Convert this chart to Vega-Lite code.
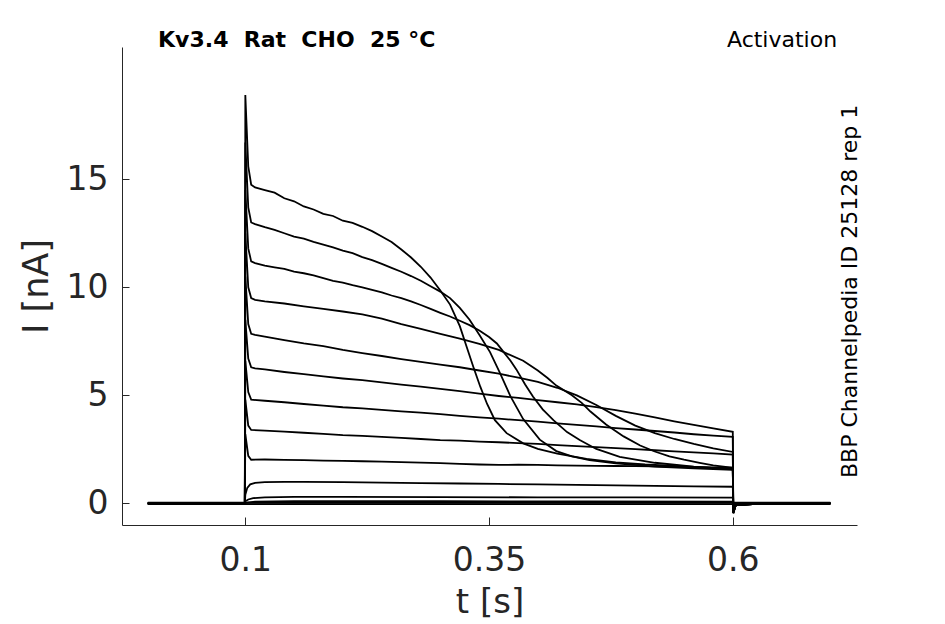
{
  "$schema": "https://vega.github.io/schema/vega-lite/v6.json",
  "width": 735,
  "height": 478,
  "autosize": "none",
  "padding": {"left": 122, "top": 47, "right": 88, "bottom": 99},
  "config": {
    "background": "white",
    "view": {"stroke": null},
    "font": "DejaVu Sans"
  },
  "layer": [
    {
      "data": {
        "values": [
          {"s": 1, "t": 0, "i": 0}, {"s": 1, "t": 0.05, "i": 0.02}, {"s": 1, "t": 0.0995, "i": 0},
          {"s": 1, "t": 0.1, "i": 18.9}, {"s": 1, "t": 0.103, "i": 15.6}, {"s": 1, "t": 0.106, "i": 14.75},
          {"s": 1, "t": 0.11, "i": 14.62}, {"s": 1, "t": 0.12, "i": 14.5}, {"s": 1, "t": 0.13, "i": 14.38},
          {"s": 1, "t": 0.14, "i": 14.12}, {"s": 1, "t": 0.15, "i": 13.98}, {"s": 1, "t": 0.16, "i": 13.74},
          {"s": 1, "t": 0.17, "i": 13.6}, {"s": 1, "t": 0.18, "i": 13.4}, {"s": 1, "t": 0.19, "i": 13.3},
          {"s": 1, "t": 0.2, "i": 13.08}, {"s": 1, "t": 0.21, "i": 12.98}, {"s": 1, "t": 0.22, "i": 12.8},
          {"s": 1, "t": 0.23, "i": 12.6}, {"s": 1, "t": 0.24, "i": 12.35}, {"s": 1, "t": 0.25, "i": 12.1},
          {"s": 1, "t": 0.26, "i": 11.75}, {"s": 1, "t": 0.27, "i": 11.38}, {"s": 1, "t": 0.28, "i": 10.95},
          {"s": 1, "t": 0.29, "i": 10.45}, {"s": 1, "t": 0.3, "i": 9.85}, {"s": 1, "t": 0.31, "i": 9.2},
          {"s": 1, "t": 0.32, "i": 8.2}, {"s": 1, "t": 0.327, "i": 7.25}, {"s": 1, "t": 0.334, "i": 6.3},
          {"s": 1, "t": 0.341, "i": 5.4}, {"s": 1, "t": 0.348, "i": 4.6}, {"s": 1, "t": 0.356, "i": 3.85},
          {"s": 1, "t": 0.368, "i": 3.25}, {"s": 1, "t": 0.385, "i": 2.78}, {"s": 1, "t": 0.4, "i": 2.52},
          {"s": 1, "t": 0.42, "i": 2.3}, {"s": 1, "t": 0.45, "i": 2.06}, {"s": 1, "t": 0.48, "i": 1.9},
          {"s": 1, "t": 0.51, "i": 1.8}, {"s": 1, "t": 0.54, "i": 1.74}, {"s": 1, "t": 0.57, "i": 1.67},
          {"s": 1, "t": 0.6, "i": 1.6}, {"s": 1, "t": 0.6005, "i": -0.45}, {"s": 1, "t": 0.603, "i": -0.08},
          {"s": 1, "t": 0.62, "i": -0.03}, {"s": 1, "t": 0.7, "i": 0},

          {"s": 2, "t": 0, "i": 0}, {"s": 2, "t": 0.05, "i": -0.02}, {"s": 2, "t": 0.0995, "i": 0},
          {"s": 2, "t": 0.1, "i": 16.7}, {"s": 2, "t": 0.103, "i": 13.7}, {"s": 2, "t": 0.106, "i": 13.0},
          {"s": 2, "t": 0.11, "i": 12.92}, {"s": 2, "t": 0.12, "i": 12.78}, {"s": 2, "t": 0.13, "i": 12.66},
          {"s": 2, "t": 0.14, "i": 12.5}, {"s": 2, "t": 0.15, "i": 12.35}, {"s": 2, "t": 0.16, "i": 12.25},
          {"s": 2, "t": 0.17, "i": 12.1}, {"s": 2, "t": 0.18, "i": 11.98}, {"s": 2, "t": 0.19, "i": 11.85},
          {"s": 2, "t": 0.2, "i": 11.7}, {"s": 2, "t": 0.21, "i": 11.58}, {"s": 2, "t": 0.22, "i": 11.4},
          {"s": 2, "t": 0.23, "i": 11.26}, {"s": 2, "t": 0.24, "i": 11.08}, {"s": 2, "t": 0.25, "i": 10.9},
          {"s": 2, "t": 0.26, "i": 10.72}, {"s": 2, "t": 0.27, "i": 10.52}, {"s": 2, "t": 0.28, "i": 10.3},
          {"s": 2, "t": 0.29, "i": 10.05}, {"s": 2, "t": 0.3, "i": 9.8}, {"s": 2, "t": 0.31, "i": 9.5},
          {"s": 2, "t": 0.32, "i": 9.05}, {"s": 2, "t": 0.33, "i": 8.5}, {"s": 2, "t": 0.34, "i": 7.8},
          {"s": 2, "t": 0.351, "i": 7.0}, {"s": 2, "t": 0.361, "i": 6.05}, {"s": 2, "t": 0.372, "i": 4.95},
          {"s": 2, "t": 0.385, "i": 3.9}, {"s": 2, "t": 0.402, "i": 2.95}, {"s": 2, "t": 0.419, "i": 2.42},
          {"s": 2, "t": 0.435, "i": 2.18}, {"s": 2, "t": 0.453, "i": 2.0}, {"s": 2, "t": 0.48, "i": 1.85},
          {"s": 2, "t": 0.52, "i": 1.7}, {"s": 2, "t": 0.56, "i": 1.62}, {"s": 2, "t": 0.6, "i": 1.55},
          {"s": 2, "t": 0.6005, "i": -0.45}, {"s": 2, "t": 0.603, "i": -0.08}, {"s": 2, "t": 0.62, "i": -0.03},
          {"s": 2, "t": 0.7, "i": 0},

          {"s": 3, "t": 0, "i": 0}, {"s": 3, "t": 0.05, "i": 0.01}, {"s": 3, "t": 0.0995, "i": 0},
          {"s": 3, "t": 0.1, "i": 14.5}, {"s": 3, "t": 0.103, "i": 11.8}, {"s": 3, "t": 0.106, "i": 11.2},
          {"s": 3, "t": 0.11, "i": 11.12}, {"s": 3, "t": 0.12, "i": 11.0}, {"s": 3, "t": 0.13, "i": 10.92},
          {"s": 3, "t": 0.14, "i": 10.85}, {"s": 3, "t": 0.15, "i": 10.72}, {"s": 3, "t": 0.16, "i": 10.65},
          {"s": 3, "t": 0.17, "i": 10.55}, {"s": 3, "t": 0.18, "i": 10.42}, {"s": 3, "t": 0.19, "i": 10.3},
          {"s": 3, "t": 0.2, "i": 10.22}, {"s": 3, "t": 0.21, "i": 10.1}, {"s": 3, "t": 0.22, "i": 10.0},
          {"s": 3, "t": 0.23, "i": 9.88}, {"s": 3, "t": 0.24, "i": 9.76}, {"s": 3, "t": 0.25, "i": 9.62},
          {"s": 3, "t": 0.26, "i": 9.5}, {"s": 3, "t": 0.27, "i": 9.35}, {"s": 3, "t": 0.28, "i": 9.18},
          {"s": 3, "t": 0.29, "i": 9.0}, {"s": 3, "t": 0.3, "i": 8.82}, {"s": 3, "t": 0.31, "i": 8.65},
          {"s": 3, "t": 0.32, "i": 8.45}, {"s": 3, "t": 0.33, "i": 8.25}, {"s": 3, "t": 0.34, "i": 8.0},
          {"s": 3, "t": 0.35, "i": 7.7}, {"s": 3, "t": 0.358, "i": 7.4}, {"s": 3, "t": 0.365, "i": 7.0},
          {"s": 3, "t": 0.372, "i": 6.6}, {"s": 3, "t": 0.378, "i": 6.2}, {"s": 3, "t": 0.387, "i": 5.5},
          {"s": 3, "t": 0.395, "i": 4.95}, {"s": 3, "t": 0.405, "i": 4.35}, {"s": 3, "t": 0.416, "i": 3.85},
          {"s": 3, "t": 0.43, "i": 3.3}, {"s": 3, "t": 0.443, "i": 2.93}, {"s": 3, "t": 0.46, "i": 2.52},
          {"s": 3, "t": 0.484, "i": 2.15}, {"s": 3, "t": 0.52, "i": 1.88}, {"s": 3, "t": 0.56, "i": 1.7},
          {"s": 3, "t": 0.6, "i": 1.58}, {"s": 3, "t": 0.6005, "i": -0.45}, {"s": 3, "t": 0.603, "i": -0.08},
          {"s": 3, "t": 0.62, "i": -0.03}, {"s": 3, "t": 0.7, "i": 0},

          {"s": 4, "t": 0, "i": 0}, {"s": 4, "t": 0.05, "i": -0.01}, {"s": 4, "t": 0.0995, "i": 0},
          {"s": 4, "t": 0.1, "i": 12.5}, {"s": 4, "t": 0.103, "i": 10.0}, {"s": 4, "t": 0.106, "i": 9.5},
          {"s": 4, "t": 0.11, "i": 9.42}, {"s": 4, "t": 0.12, "i": 9.35}, {"s": 4, "t": 0.14, "i": 9.25},
          {"s": 4, "t": 0.16, "i": 9.12}, {"s": 4, "t": 0.18, "i": 9.0}, {"s": 4, "t": 0.2, "i": 8.88},
          {"s": 4, "t": 0.22, "i": 8.75}, {"s": 4, "t": 0.24, "i": 8.55}, {"s": 4, "t": 0.26, "i": 8.3},
          {"s": 4, "t": 0.28, "i": 8.08}, {"s": 4, "t": 0.3, "i": 7.85}, {"s": 4, "t": 0.32, "i": 7.62},
          {"s": 4, "t": 0.34, "i": 7.38}, {"s": 4, "t": 0.36, "i": 7.1}, {"s": 4, "t": 0.385, "i": 6.6},
          {"s": 4, "t": 0.4, "i": 6.15}, {"s": 4, "t": 0.41, "i": 5.8}, {"s": 4, "t": 0.419, "i": 5.45},
          {"s": 4, "t": 0.435, "i": 5.0}, {"s": 4, "t": 0.445, "i": 4.65}, {"s": 4, "t": 0.454, "i": 4.25},
          {"s": 4, "t": 0.47, "i": 3.65}, {"s": 4, "t": 0.488, "i": 3.1}, {"s": 4, "t": 0.505, "i": 2.68},
          {"s": 4, "t": 0.52, "i": 2.4}, {"s": 4, "t": 0.535, "i": 2.18}, {"s": 4, "t": 0.55, "i": 2.02},
          {"s": 4, "t": 0.566, "i": 1.88}, {"s": 4, "t": 0.58, "i": 1.76}, {"s": 4, "t": 0.6, "i": 1.65},
          {"s": 4, "t": 0.6005, "i": -0.42}, {"s": 4, "t": 0.603, "i": -0.08}, {"s": 4, "t": 0.62, "i": -0.03},
          {"s": 4, "t": 0.7, "i": 0},

          {"s": 5, "t": 0, "i": 0}, {"s": 5, "t": 0.05, "i": 0.01}, {"s": 5, "t": 0.0995, "i": 0},
          {"s": 5, "t": 0.1, "i": 10.5}, {"s": 5, "t": 0.103, "i": 8.3}, {"s": 5, "t": 0.106, "i": 7.85},
          {"s": 5, "t": 0.11, "i": 7.8}, {"s": 5, "t": 0.12, "i": 7.72}, {"s": 5, "t": 0.14, "i": 7.55},
          {"s": 5, "t": 0.16, "i": 7.4}, {"s": 5, "t": 0.18, "i": 7.28}, {"s": 5, "t": 0.2, "i": 7.1},
          {"s": 5, "t": 0.22, "i": 6.95}, {"s": 5, "t": 0.24, "i": 6.82}, {"s": 5, "t": 0.26, "i": 6.68},
          {"s": 5, "t": 0.28, "i": 6.55}, {"s": 5, "t": 0.3, "i": 6.42}, {"s": 5, "t": 0.32, "i": 6.3},
          {"s": 5, "t": 0.34, "i": 6.15}, {"s": 5, "t": 0.36, "i": 6.0}, {"s": 5, "t": 0.38, "i": 5.82},
          {"s": 5, "t": 0.4, "i": 5.62}, {"s": 5, "t": 0.42, "i": 5.35}, {"s": 5, "t": 0.44, "i": 5.0},
          {"s": 5, "t": 0.46, "i": 4.55}, {"s": 5, "t": 0.48, "i": 4.05}, {"s": 5, "t": 0.5, "i": 3.6},
          {"s": 5, "t": 0.52, "i": 3.25}, {"s": 5, "t": 0.54, "i": 2.98}, {"s": 5, "t": 0.56, "i": 2.75},
          {"s": 5, "t": 0.58, "i": 2.55}, {"s": 5, "t": 0.6, "i": 2.38}, {"s": 5, "t": 0.6005, "i": -0.42},
          {"s": 5, "t": 0.603, "i": -0.08}, {"s": 5, "t": 0.62, "i": -0.03}, {"s": 5, "t": 0.7, "i": 0},

          {"s": 6, "t": 0, "i": 0}, {"s": 6, "t": 0.05, "i": 0}, {"s": 6, "t": 0.0995, "i": 0},
          {"s": 6, "t": 0.1, "i": 8.5}, {"s": 6, "t": 0.103, "i": 6.7}, {"s": 6, "t": 0.106, "i": 6.3},
          {"s": 6, "t": 0.11, "i": 6.25}, {"s": 6, "t": 0.12, "i": 6.2}, {"s": 6, "t": 0.14, "i": 6.08},
          {"s": 6, "t": 0.16, "i": 5.98}, {"s": 6, "t": 0.18, "i": 5.88}, {"s": 6, "t": 0.2, "i": 5.78},
          {"s": 6, "t": 0.22, "i": 5.7}, {"s": 6, "t": 0.24, "i": 5.6}, {"s": 6, "t": 0.26, "i": 5.5},
          {"s": 6, "t": 0.28, "i": 5.4}, {"s": 6, "t": 0.3, "i": 5.3}, {"s": 6, "t": 0.32, "i": 5.2},
          {"s": 6, "t": 0.34, "i": 5.08}, {"s": 6, "t": 0.36, "i": 4.97}, {"s": 6, "t": 0.38, "i": 4.88},
          {"s": 6, "t": 0.4, "i": 4.78}, {"s": 6, "t": 0.42, "i": 4.68}, {"s": 6, "t": 0.44, "i": 4.58},
          {"s": 6, "t": 0.46, "i": 4.45}, {"s": 6, "t": 0.48, "i": 4.32}, {"s": 6, "t": 0.5, "i": 4.15},
          {"s": 6, "t": 0.52, "i": 3.98}, {"s": 6, "t": 0.54, "i": 3.8}, {"s": 6, "t": 0.56, "i": 3.63},
          {"s": 6, "t": 0.58, "i": 3.47}, {"s": 6, "t": 0.6, "i": 3.31}, {"s": 6, "t": 0.6005, "i": -0.4},
          {"s": 6, "t": 0.603, "i": -0.08}, {"s": 6, "t": 0.62, "i": -0.03}, {"s": 6, "t": 0.7, "i": 0},

          {"s": 7, "t": 0, "i": 0}, {"s": 7, "t": 0.05, "i": -0.01}, {"s": 7, "t": 0.0995, "i": 0},
          {"s": 7, "t": 0.1, "i": 6.6}, {"s": 7, "t": 0.103, "i": 5.15}, {"s": 7, "t": 0.106, "i": 4.8},
          {"s": 7, "t": 0.12, "i": 4.75}, {"s": 7, "t": 0.14, "i": 4.68}, {"s": 7, "t": 0.16, "i": 4.6},
          {"s": 7, "t": 0.18, "i": 4.52}, {"s": 7, "t": 0.2, "i": 4.45}, {"s": 7, "t": 0.22, "i": 4.4},
          {"s": 7, "t": 0.24, "i": 4.33}, {"s": 7, "t": 0.26, "i": 4.26}, {"s": 7, "t": 0.28, "i": 4.2},
          {"s": 7, "t": 0.3, "i": 4.13}, {"s": 7, "t": 0.32, "i": 4.05}, {"s": 7, "t": 0.34, "i": 3.98},
          {"s": 7, "t": 0.36, "i": 3.92}, {"s": 7, "t": 0.38, "i": 3.85}, {"s": 7, "t": 0.4, "i": 3.78},
          {"s": 7, "t": 0.42, "i": 3.7}, {"s": 7, "t": 0.44, "i": 3.63}, {"s": 7, "t": 0.46, "i": 3.56},
          {"s": 7, "t": 0.48, "i": 3.48}, {"s": 7, "t": 0.5, "i": 3.42}, {"s": 7, "t": 0.52, "i": 3.35},
          {"s": 7, "t": 0.54, "i": 3.28}, {"s": 7, "t": 0.56, "i": 3.2}, {"s": 7, "t": 0.58, "i": 3.14},
          {"s": 7, "t": 0.6, "i": 3.08}, {"s": 7, "t": 0.6005, "i": -0.38}, {"s": 7, "t": 0.603, "i": -0.08},
          {"s": 7, "t": 0.62, "i": -0.03}, {"s": 7, "t": 0.7, "i": 0},

          {"s": 8, "t": 0, "i": 0}, {"s": 8, "t": 0.05, "i": 0.01}, {"s": 8, "t": 0.0995, "i": 0},
          {"s": 8, "t": 0.1, "i": 4.8}, {"s": 8, "t": 0.103, "i": 3.6}, {"s": 8, "t": 0.106, "i": 3.4},
          {"s": 8, "t": 0.12, "i": 3.37}, {"s": 8, "t": 0.14, "i": 3.32}, {"s": 8, "t": 0.16, "i": 3.27},
          {"s": 8, "t": 0.18, "i": 3.22}, {"s": 8, "t": 0.2, "i": 3.16}, {"s": 8, "t": 0.22, "i": 3.12},
          {"s": 8, "t": 0.24, "i": 3.08}, {"s": 8, "t": 0.26, "i": 3.03}, {"s": 8, "t": 0.28, "i": 2.98},
          {"s": 8, "t": 0.3, "i": 2.93}, {"s": 8, "t": 0.32, "i": 2.9}, {"s": 8, "t": 0.34, "i": 2.86},
          {"s": 8, "t": 0.36, "i": 2.83}, {"s": 8, "t": 0.38, "i": 2.79}, {"s": 8, "t": 0.4, "i": 2.75},
          {"s": 8, "t": 0.42, "i": 2.7}, {"s": 8, "t": 0.44, "i": 2.65}, {"s": 8, "t": 0.46, "i": 2.6},
          {"s": 8, "t": 0.48, "i": 2.56}, {"s": 8, "t": 0.5, "i": 2.51}, {"s": 8, "t": 0.52, "i": 2.46},
          {"s": 8, "t": 0.54, "i": 2.41}, {"s": 8, "t": 0.56, "i": 2.36}, {"s": 8, "t": 0.58, "i": 2.31},
          {"s": 8, "t": 0.6, "i": 2.26}, {"s": 8, "t": 0.6005, "i": -0.3}, {"s": 8, "t": 0.603, "i": -0.06},
          {"s": 8, "t": 0.62, "i": -0.02}, {"s": 8, "t": 0.7, "i": 0},

          {"s": 9, "t": 0, "i": 0}, {"s": 9, "t": 0.05, "i": 0}, {"s": 9, "t": 0.0995, "i": 0},
          {"s": 9, "t": 0.1, "i": 3.2}, {"s": 9, "t": 0.103, "i": 2.2}, {"s": 9, "t": 0.106, "i": 2.02},
          {"s": 9, "t": 0.12, "i": 2.03}, {"s": 9, "t": 0.14, "i": 2.01}, {"s": 9, "t": 0.16, "i": 2.0},
          {"s": 9, "t": 0.18, "i": 1.98}, {"s": 9, "t": 0.2, "i": 1.97}, {"s": 9, "t": 0.22, "i": 1.95},
          {"s": 9, "t": 0.24, "i": 1.93}, {"s": 9, "t": 0.26, "i": 1.91}, {"s": 9, "t": 0.28, "i": 1.89},
          {"s": 9, "t": 0.3, "i": 1.86}, {"s": 9, "t": 0.32, "i": 1.83}, {"s": 9, "t": 0.34, "i": 1.8},
          {"s": 9, "t": 0.36, "i": 1.78}, {"s": 9, "t": 0.38, "i": 1.79}, {"s": 9, "t": 0.4, "i": 1.78},
          {"s": 9, "t": 0.42, "i": 1.76}, {"s": 9, "t": 0.44, "i": 1.75}, {"s": 9, "t": 0.46, "i": 1.74},
          {"s": 9, "t": 0.48, "i": 1.73}, {"s": 9, "t": 0.5, "i": 1.72}, {"s": 9, "t": 0.52, "i": 1.71},
          {"s": 9, "t": 0.54, "i": 1.69}, {"s": 9, "t": 0.56, "i": 1.68}, {"s": 9, "t": 0.58, "i": 1.66},
          {"s": 9, "t": 0.6, "i": 1.65}, {"s": 9, "t": 0.6005, "i": -0.28}, {"s": 9, "t": 0.603, "i": -0.06},
          {"s": 9, "t": 0.62, "i": -0.02}, {"s": 9, "t": 0.7, "i": 0},

          {"s": 10, "t": 0, "i": 0}, {"s": 10, "t": 0.05, "i": 0.01}, {"s": 10, "t": 0.0995, "i": 0},
          {"s": 10, "t": 0.1, "i": 0.4}, {"s": 10, "t": 0.102, "i": 0.72}, {"s": 10, "t": 0.105, "i": 0.88},
          {"s": 10, "t": 0.11, "i": 0.95}, {"s": 10, "t": 0.12, "i": 0.98}, {"s": 10, "t": 0.14, "i": 1.0},
          {"s": 10, "t": 0.16, "i": 1.0}, {"s": 10, "t": 0.2, "i": 0.98}, {"s": 10, "t": 0.24, "i": 0.96},
          {"s": 10, "t": 0.28, "i": 0.94}, {"s": 10, "t": 0.32, "i": 0.92}, {"s": 10, "t": 0.36, "i": 0.9},
          {"s": 10, "t": 0.4, "i": 0.88}, {"s": 10, "t": 0.44, "i": 0.86}, {"s": 10, "t": 0.48, "i": 0.83},
          {"s": 10, "t": 0.52, "i": 0.81}, {"s": 10, "t": 0.56, "i": 0.79}, {"s": 10, "t": 0.6, "i": 0.77},
          {"s": 10, "t": 0.6005, "i": -0.2}, {"s": 10, "t": 0.603, "i": -0.05}, {"s": 10, "t": 0.62, "i": -0.02},
          {"s": 10, "t": 0.7, "i": 0},

          {"s": 11, "t": 0, "i": 0}, {"s": 11, "t": 0.0995, "i": 0}, {"s": 11, "t": 0.1, "i": 0.1},
          {"s": 11, "t": 0.103, "i": 0.18}, {"s": 11, "t": 0.108, "i": 0.24}, {"s": 11, "t": 0.12, "i": 0.28},
          {"s": 11, "t": 0.15, "i": 0.3}, {"s": 11, "t": 0.2, "i": 0.3}, {"s": 11, "t": 0.3, "i": 0.29},
          {"s": 11, "t": 0.4, "i": 0.28}, {"s": 11, "t": 0.5, "i": 0.28}, {"s": 11, "t": 0.6, "i": 0.27},
          {"s": 11, "t": 0.6005, "i": -0.1}, {"s": 11, "t": 0.603, "i": -0.03}, {"s": 11, "t": 0.7, "i": 0},

          {"s": 12, "t": 0, "i": 0}, {"s": 12, "t": 0.0995, "i": 0}, {"s": 12, "t": 0.1, "i": 0.03},
          {"s": 12, "t": 0.11, "i": 0.08}, {"s": 12, "t": 0.15, "i": 0.1}, {"s": 12, "t": 0.3, "i": 0.1},
          {"s": 12, "t": 0.45, "i": 0.09}, {"s": 12, "t": 0.6, "i": 0.08}, {"s": 12, "t": 0.6005, "i": -0.05},
          {"s": 12, "t": 0.603, "i": -0.02}, {"s": 12, "t": 0.7, "i": 0},

          {"s": 13, "t": 0, "i": 0.03}, {"s": 13, "t": 0.35, "i": 0.03}, {"s": 13, "t": 0.7, "i": 0.03},
          {"s": 14, "t": 0, "i": -0.03}, {"s": 14, "t": 0.35, "i": -0.03}, {"s": 14, "t": 0.7, "i": -0.03}
        ]
      },
      "mark": {"type": "line", "color": "black", "strokeWidth": 1.8, "interpolate": "linear"},
      "encoding": {
        "x": {
          "field": "t",
          "type": "quantitative",
          "scale": {"domain": [-0.0265, 0.7274], "nice": false, "zero": false},
          "axis": {
            "title": "t [s]",
            "values": [0.1, 0.35, 0.6],
            "format": "~g",
            "grid": false,
            "tickSize": -8,
            "labelPadding": 27,
            "labelFontSize": 33,
            "labelColor": "#262626",
            "titleFontSize": 34,
            "titleFontWeight": "normal",
            "titleColor": "#262626",
            "titlePadding": 8,
            "domainColor": "#262626",
            "tickColor": "#262626"
          }
        },
        "y": {
          "field": "i",
          "type": "quantitative",
          "scale": {"domain": [-1.0, 21.12], "nice": false, "zero": false},
          "axis": {
            "title": "I [nA]",
            "values": [0, 5, 10, 15],
            "grid": false,
            "tickSize": -7,
            "labelPadding": 21,
            "labelFontSize": 33,
            "labelColor": "#262626",
            "titleFontSize": 35,
            "titleFontWeight": "normal",
            "titleColor": "#262626",
            "titlePadding": 12,
            "domainColor": "#262626",
            "tickColor": "#262626"
          }
        },
        "detail": {"field": "s", "type": "nominal"}
      }
    },
    {
      "data": {"values": [{"label": "Kv3.4\u00a0\u00a0Rat\u00a0\u00a0CHO\u00a0\u00a025\u00a0°C"}]},
      "mark": {"type": "text", "align": "left", "baseline": "alphabetic", "fontSize": 22, "fontWeight": "bold", "color": "black"},
      "encoding": {
        "x": {"datum": 0.0105, "type": "quantitative"},
        "y": {"datum": 21.12, "type": "quantitative"},
        "text": {"field": "label"}
      }
    },
    {
      "data": {"values": [{"label": "Activation"}]},
      "mark": {"type": "text", "align": "right", "baseline": "alphabetic", "fontSize": 22, "color": "black"},
      "encoding": {
        "x": {"datum": 0.707, "type": "quantitative"},
        "y": {"datum": 21.12, "type": "quantitative"},
        "text": {"field": "label"}
      }
    },
    {
      "data": {"values": [{"label": "BBP Channelpedia ID 25128 rep 1"}]},
      "mark": {"type": "text", "align": "center", "baseline": "alphabetic", "angle": 270, "fontSize": 22, "color": "black"},
      "encoding": {
        "x": {"datum": 0.727, "type": "quantitative"},
        "y": {"datum": 9.81, "type": "quantitative"},
        "text": {"field": "label"}
      }
    }
  ]
}
